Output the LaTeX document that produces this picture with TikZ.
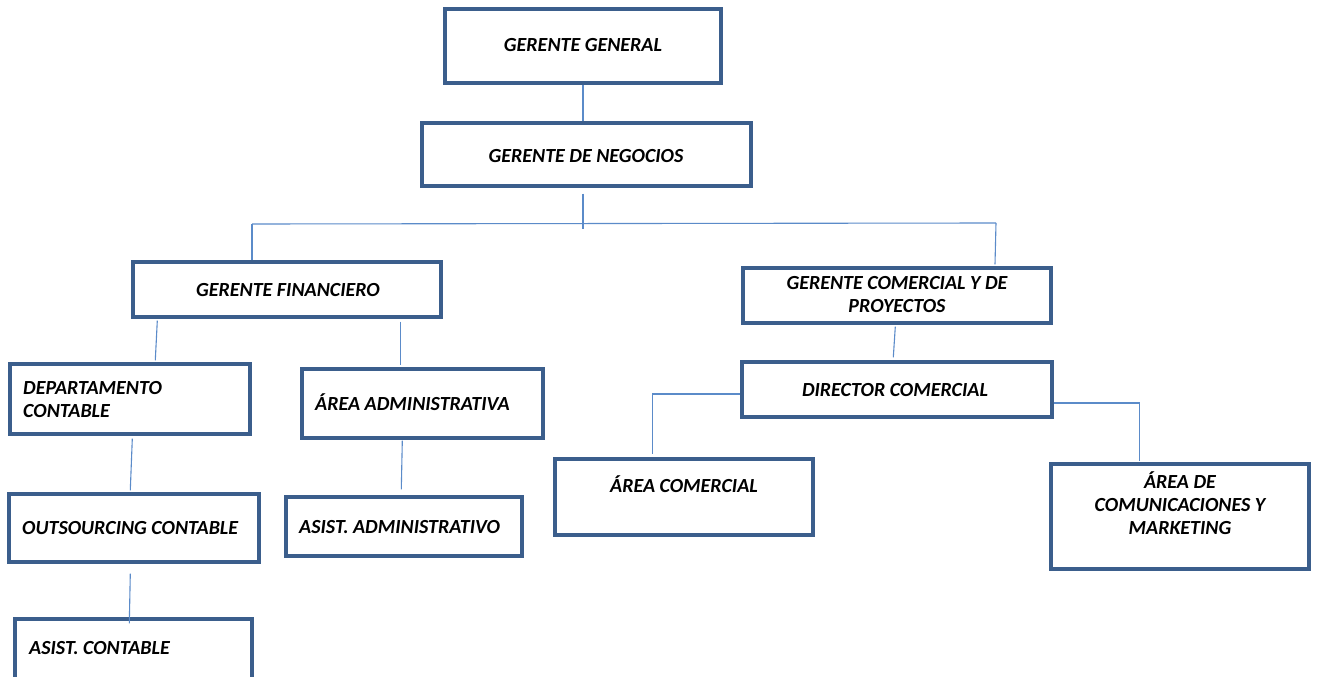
\documentclass[tikz,border=0pt]{standalone}
\usepackage{fontspec}
\setmainfont{Carlito}
\usetikzlibrary{calc}
\definecolor{boxblue}{HTML}{3B5E8C}
\definecolor{linkblue}{HTML}{5B8BC9}
\tikzset{
  box/.style={draw=boxblue, line width=3.4pt, fill=white, inner sep=0pt, rectangle},
  lbl/.style={inner sep=0pt, font=\fontsize{20}{23}\selectfont\bfseries\itshape, text=black},
  link/.style={draw=linkblue, line width=1.1pt}
}
\newcommand{\bx}[5]{\node[box, minimum width={#4-#2}, minimum height={#5-#3}] (#1) at ({(#2+#4)/2},{(#3+#5)/2}) {};}
\begin{document}
\begin{tikzpicture}[x=1pt,y=-1pt]
\useasboundingbox (0,0) rectangle (1318,677);
% boxes
\bx{gg}{445}{9}{721}{83}
\bx{gn}{422}{123}{751}{186}
\bx{gf}{133}{262}{441}{317}
\bx{gcp}{743}{268}{1051}{323}
\bx{dc}{742}{362}{1052}{417}
\bx{dep}{10}{364}{250}{434}
\bx{aa}{302}{369}{543}{438}
\bx{ac}{555}{459}{813}{535}
\bx{acm}{1051}{464}{1309}{569}
\bx{oc}{9}{494}{259}{562}
\bx{asa}{286}{497}{522}{556}
\bx{asc}{15}{619}{252}{690}
% bus coordinates
\coordinate (bus) at (583,224);
\coordinate (busL) at (252,224);
\coordinate (busR) at (996,223);
% connectors
\draw[link] (gg.south -| bus) -- (gn.north -| bus);
\draw[link] ($(gn.south -| bus)+(0,6)$) -- ($(bus)+(0,5)$);
\draw[link] (busL) -- (busR);
\draw[link] (busL) -- (busL |- gf.north);
\draw[link] (busR) -- ($(busR |- gcp.north)+(-1,-2)$);
\draw[link] ($(gf.south west)+(26,2)$) -- ($(dep.north west)+(147,-2)$);
\draw[link] ($(gf.south west)+(269,3)$) -- ($(aa.north west)+(100,-2)$);
\draw[link] ($(dep.south west)+(124,3)$) -- ($(oc.north west)+(123,-2)$);
\draw[link] ($(oc.south west)+(123,10)$) -- ($(asc.north west)+(116,6)$);
\draw[link] ($(aa.south west)+(102,1)$) -- ($(asa.north west)+(117,-6)$);
\draw[link] ($(gcp.south west)+(154,2)$) -- ($(dc.north west)+(153,-3)$);
\draw[link] ($(dc.west)+(0,4.5)$) -| ($(ac.north west)+(99,-3)$);
\draw[link] ($(dc.east)+(0,13.5)$) -| ($(acm.north west)+(90,-1)$);
% labels
\node[lbl, anchor=base] (tgg) at (583,52) {GERENTE GENERAL};
\node[lbl, anchor=base] (tgn) at (586,162) {GERENTE DE NEGOCIOS};
\node[lbl, anchor=base] (tgf) at (288,296) {GERENTE FINANCIERO};
\node[lbl, anchor=base, align=center] (tgcp) at (897,312) {GERENTE COMERCIAL Y DE\\PROYECTOS};
\node[lbl, anchor=base] (tdc) at (895,396) {DIRECTOR COMERCIAL};
\node[lbl, anchor=base west, align=left] (tdep) at (23,417) {DEPARTAMENTO\\CONTABLE};
\node[lbl, anchor=base west] (taa) at (315,410) {ÁREA ADMINISTRATIVA};
\node[lbl, anchor=base west] (toc) at (22,534) {OUTSOURCING CONTABLE};
\node[lbl, anchor=base west] (tasa) at (299,533) {ASIST. ADMINISTRATIVO};
\node[lbl, anchor=base west] (tasc) at (29,654) {ASIST. CONTABLE};
\node[lbl, anchor=base] (tac) at (684,492) {ÁREA COMERCIAL};
\node[lbl, anchor=base, align=center] (tacm) at (1180,534) {ÁREA DE\\COMUNICACIONES Y\\MARKETING};
\end{tikzpicture}
\end{document}
